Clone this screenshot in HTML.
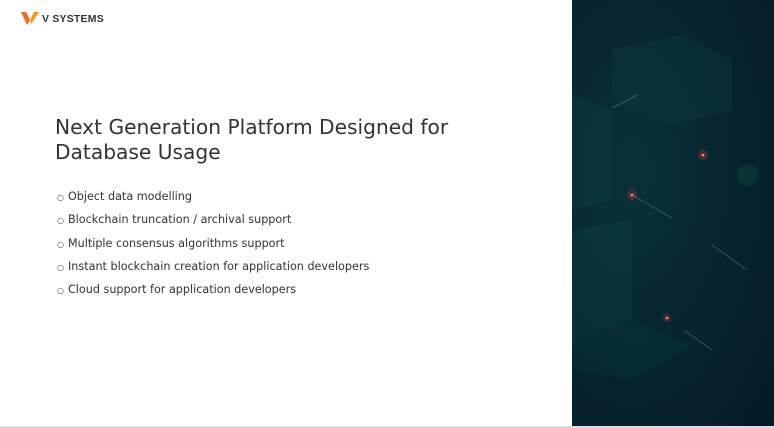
<!DOCTYPE html>
<html><head><meta charset="utf-8"><style>
html,body{margin:0;padding:0;width:774px;height:428px;overflow:hidden;background:#fff;font-family:"DejaVu Sans","Liberation Sans",sans-serif;position:relative}
.logo{position:absolute;left:21px;top:12px}
.brand{position:absolute;left:42px;top:13px;font-size:10.5px;font-weight:bold;color:#333;font-family:"Liberation Sans",sans-serif;letter-spacing:0.2px}
.title{position:absolute;left:55px;top:115px;font-size:20.2px;line-height:25px;color:#333;white-space:nowrap}
.list{position:absolute;left:57px;top:190px;font-size:11.2px;color:#333;white-space:nowrap}
.list div{height:23.3px;line-height:14px}
.list span{font-size:8px;margin-right:4px;color:#555}
.panel{position:absolute;left:572px;top:0;width:202px;height:426px;background:radial-gradient(ellipse at 30% 40%,#0a3236 0%,#072630 45%,#051a24 100%)}
.bot{position:absolute;left:0;top:426px;width:774px;height:2px;background:#ddd}
</style></head><body>
<svg class="logo" width="18" height="14" viewBox="0 0 18 14"><polygon points="0,0 5,0 9,8 6,13" fill="#f26a21"/><polygon points="9,8 13,0 18,0 10,12" fill="#f7931e"/></svg>
<div class="brand">V SYSTEMS</div>
<div class="title">Next Generation Platform Designed for<br>Database Usage</div>
<div class="list">
<div><span>○</span>Object data modelling</div>
<div><span>○</span>Blockchain truncation / archival support</div>
<div><span>○</span>Multiple consensus algorithms support</div>
<div><span>○</span>Instant blockchain creation for application developers</div>
<div><span>○</span>Cloud support for application developers</div>
</div>
<div class="panel">
<svg width="202" height="426">
<polygon points="40,50 110,35 160,60 160,110 100,125 40,100" fill="#0f4046" opacity="0.3"/>
<polygon points="0,95 40,110 40,200 0,210" fill="#0f4a48" opacity="0.25"/>
<polygon points="0,230 60,220 60,320 0,345" fill="#0e4a4a" opacity="0.3"/>
<polygon points="0,345 60,320 120,345 60,380 0,370" fill="#0a3a3c" opacity="0.3"/>
<circle cx="131" cy="155" r="5" fill="#c03040" opacity="0.35"/><circle cx="131" cy="155" r="1.3" fill="#f88"/>
<circle cx="60" cy="195" r="5" fill="#c03040" opacity="0.35"/><circle cx="60" cy="195" r="1.3" fill="#f88"/>
<circle cx="95" cy="318" r="4" fill="#c03040" opacity="0.35"/><circle cx="95" cy="318" r="1.3" fill="#f88"/>
<circle cx="176" cy="175" r="11" fill="#145040" opacity="0.35"/>
<line x1="40" y1="108" x2="66" y2="95" stroke="#8ab" stroke-width="1" opacity="0.4"/>
<line x1="60" y1="195" x2="100" y2="218" stroke="#8ab" stroke-width="1" opacity="0.35"/>
<line x1="140" y1="245" x2="175" y2="270" stroke="#8ab" stroke-width="1" opacity="0.35"/>
<line x1="112" y1="330" x2="140" y2="350" stroke="#8ab" stroke-width="1" opacity="0.35"/>
</svg>
</div>
<div class="bot"></div>
</body></html>
